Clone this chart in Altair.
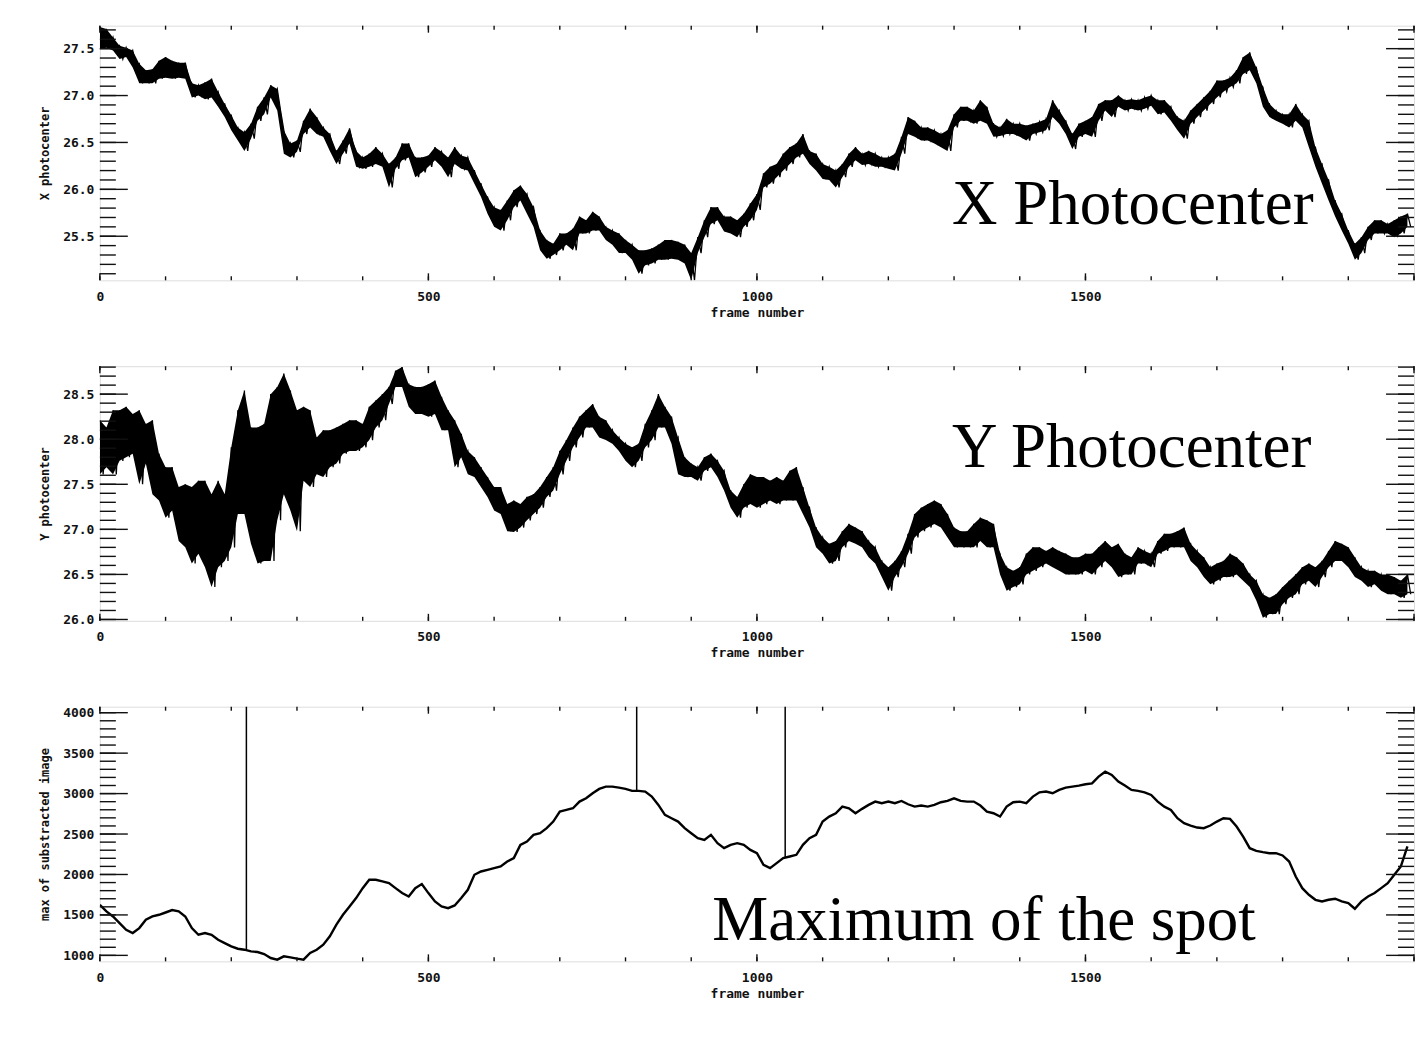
import altair as alt
import pandas as pd

# ---------------- data (frames 0..1990, step 10) ----------------
FRAMES = list(range(0, 2000, 10))

X_HI = [27.73, 27.71, 27.62, 27.53, 27.51, 27.48, 27.34, 27.27, 27.28, 27.37,
        27.41, 27.37, 27.35, 27.35, 27.13, 27.11, 27.14, 27.18, 27.04, 26.91,
        26.79, 26.66, 26.61, 26.70, 26.88, 26.98, 27.11, 27.07, 26.63, 26.49,
        26.52, 26.73, 26.86, 26.77, 26.66, 26.59, 26.41, 26.52, 26.65, 26.41,
        26.34, 26.38, 26.45, 26.38, 26.27, 26.34, 26.49, 26.49, 26.34, 26.34,
        26.36, 26.45, 26.40, 26.34, 26.45, 26.36, 26.34, 26.20, 26.06, 25.92,
        25.81, 25.78, 25.88, 25.99, 26.04, 25.95, 25.81, 25.56, 25.46, 25.42,
        25.53, 25.53, 25.58, 25.71, 25.67, 25.76, 25.71, 25.60, 25.56, 25.53,
        25.46, 25.41, 25.35, 25.35, 25.37, 25.41, 25.46, 25.46, 25.44, 25.41,
        25.32, 25.49, 25.67, 25.81, 25.81, 25.71, 25.71, 25.67, 25.74, 25.85,
        25.95, 26.17, 26.24, 26.27, 26.38, 26.45, 26.49, 26.59, 26.41, 26.38,
        26.27, 26.24, 26.20, 26.27, 26.38, 26.45, 26.38, 26.41, 26.38, 26.34,
        26.34, 26.38, 26.56, 26.77, 26.73, 26.66, 26.66, 26.63, 26.59, 26.63,
        26.80, 26.88, 26.88, 26.84, 26.95, 26.88, 26.70, 26.66, 26.75, 26.70,
        26.70, 26.68, 26.70, 26.72, 26.75, 26.95, 26.84, 26.73, 26.59, 26.70,
        26.73, 26.77, 26.91, 26.95, 26.95, 27.00, 26.95, 26.96, 26.95, 26.98,
        27.00, 26.95, 26.95, 26.88, 26.77, 26.73, 26.84, 26.91, 26.98, 27.05,
        27.16, 27.16, 27.19, 27.27, 27.41, 27.46, 27.30, 27.09, 26.91, 26.84,
        26.80, 26.80, 26.91, 26.80, 26.73, 26.45, 26.27, 26.10, 25.88, 25.74,
        25.56, 25.42, 25.49, 25.60, 25.67, 25.67, 25.63, 25.67, 25.71, 25.74]

X_LO = [27.50, 27.51, 27.48, 27.39, 27.41, 27.30, 27.13, 27.13, 27.13, 27.18,
        27.19, 27.18, 27.19, 27.18, 26.98, 27.00, 26.96, 26.98, 26.88, 26.77,
        26.63, 26.52, 26.41, 26.54, 26.73, 26.80, 26.98, 26.84, 26.38, 26.34,
        26.40, 26.59, 26.66, 26.59, 26.56, 26.41, 26.27, 26.38, 26.49, 26.24,
        26.22, 26.24, 26.27, 26.24, 26.02, 26.22, 26.31, 26.34, 26.13, 26.18,
        26.24, 26.31, 26.24, 26.13, 26.27, 26.22, 26.20, 26.06, 25.92, 25.74,
        25.60, 25.56, 25.67, 25.81, 25.88, 25.74, 25.60, 25.35, 25.26, 25.30,
        25.35, 25.41, 25.35, 25.53, 25.53, 25.56, 25.56, 25.46, 25.41, 25.32,
        25.32, 25.25, 25.10, 25.19, 25.21, 25.25, 25.25, 25.26, 25.25, 25.21,
        25.03, 25.32, 25.49, 25.63, 25.67, 25.55, 25.53, 25.49, 25.60, 25.67,
        25.78, 26.02, 26.06, 26.13, 26.20, 26.27, 26.34, 26.38, 26.27, 26.20,
        26.11, 26.10, 26.02, 26.13, 26.24, 26.31, 26.26, 26.27, 26.24, 26.24,
        26.22, 26.20, 26.38, 26.59, 26.56, 26.52, 26.52, 26.49, 26.45, 26.41,
        26.66, 26.73, 26.73, 26.70, 26.73, 26.70, 26.56, 26.57, 26.59, 26.59,
        26.56, 26.52, 26.59, 26.61, 26.63, 26.77, 26.70, 26.59, 26.43, 26.56,
        26.59, 26.56, 26.73, 26.84, 26.77, 26.88, 26.84, 26.86, 26.84, 26.86,
        26.89, 26.80, 26.82, 26.73, 26.63, 26.54, 26.70, 26.77, 26.84, 26.91,
        26.98, 27.04, 27.09, 27.13, 27.23, 27.27, 27.13, 26.88, 26.77, 26.73,
        26.70, 26.66, 26.73, 26.66, 26.45, 26.24, 26.06, 25.88, 25.71, 25.56,
        25.42, 25.25, 25.32, 25.46, 25.53, 25.53, 25.53, 25.49, 25.53, 25.60]

Y_HI = [28.21, 28.13, 28.32, 28.32, 28.36, 28.28, 28.32, 28.17, 28.21, 27.84,
        27.69, 27.69, 27.47, 27.50, 27.47, 27.54, 27.54, 27.39, 27.54, 27.39,
        27.91, 28.32, 28.54, 28.13, 28.13, 28.17, 28.50, 28.58, 28.73, 28.54,
        28.32, 28.36, 28.32, 28.02, 28.10, 28.10, 28.13, 28.17, 28.21, 28.21,
        28.17, 28.36, 28.43, 28.50, 28.58, 28.76, 28.80, 28.61, 28.58, 28.58,
        28.61, 28.65, 28.47, 28.32, 28.21, 28.06, 27.87, 27.80, 27.69, 27.58,
        27.47, 27.47, 27.28, 27.32, 27.28, 27.36, 27.39, 27.47, 27.58, 27.69,
        27.87, 27.99, 28.13, 28.25, 28.32, 28.39, 28.25, 28.21, 28.10, 28.02,
        27.95, 27.91, 27.95, 28.17, 28.32, 28.50, 28.36, 28.25, 28.02, 27.80,
        27.73, 27.69, 27.80, 27.84, 27.76, 27.65, 27.43, 27.36, 27.50, 27.61,
        27.58, 27.58, 27.54, 27.58, 27.54, 27.65, 27.69, 27.47, 27.24, 27.02,
        26.91, 26.84, 26.87, 26.98, 27.06, 27.02, 26.98, 26.87, 26.80, 26.65,
        26.58, 26.65, 26.76, 26.95, 27.17, 27.24, 27.28, 27.32, 27.28, 27.17,
        27.02, 26.98, 26.98, 27.06, 27.13, 27.10, 27.06, 26.73, 26.58, 26.54,
        26.58, 26.73, 26.80, 26.80, 26.76, 26.80, 26.76, 26.73, 26.69, 26.69,
        26.73, 26.73, 26.80, 26.87, 26.80, 26.84, 26.73, 26.69, 26.80, 26.76,
        26.73, 26.87, 26.95, 26.95, 26.98, 27.02, 26.84, 26.76, 26.69, 26.58,
        26.62, 26.65, 26.73, 26.69, 26.62, 26.50, 26.43, 26.28, 26.24, 26.28,
        26.36, 26.43, 26.50, 26.58, 26.62, 26.58, 26.65, 26.76, 26.87, 26.84,
        26.80, 26.69, 26.58, 26.54, 26.54, 26.50, 26.50, 26.47, 26.43, 26.50]

Y_LO = [27.61, 27.69, 27.61, 27.76, 27.80, 27.84, 27.50, 27.73, 27.39, 27.32,
        27.13, 27.21, 26.87, 26.80, 26.62, 26.73, 26.58, 26.36, 26.58, 26.65,
        26.80, 27.17, 27.17, 26.84, 26.62, 26.65, 26.65, 27.10, 27.39, 27.21,
        26.98, 27.54, 27.47, 27.61, 27.58, 27.69, 27.73, 27.84, 27.87, 27.87,
        27.91, 27.99, 28.13, 28.21, 28.39, 28.58, 28.58, 28.36, 28.28, 28.28,
        28.25, 28.28, 28.10, 28.10, 27.69, 27.80, 27.61, 27.58, 27.47, 27.36,
        27.21, 27.17, 26.98, 26.97, 27.02, 27.10, 27.17, 27.24, 27.36, 27.43,
        27.61, 27.76, 27.91, 28.02, 28.13, 28.13, 28.02, 27.99, 27.95, 27.87,
        27.76, 27.69, 27.76, 27.91, 27.99, 28.13, 28.13, 27.95, 27.61, 27.58,
        27.58, 27.54, 27.65, 27.69, 27.58, 27.43, 27.24, 27.13, 27.24, 27.28,
        27.24, 27.28, 27.32, 27.28, 27.32, 27.32, 27.32, 27.17, 27.02, 26.80,
        26.73, 26.62, 26.65, 26.80, 26.87, 26.84, 26.80, 26.69, 26.62, 26.47,
        26.32, 26.47, 26.58, 26.73, 26.91, 26.98, 27.02, 27.06, 27.02, 26.91,
        26.80, 26.80, 26.80, 26.80, 26.87, 26.80, 26.80, 26.50, 26.32, 26.36,
        26.39, 26.50, 26.54, 26.58, 26.62, 26.58, 26.54, 26.50, 26.50, 26.50,
        26.54, 26.50, 26.58, 26.65, 26.58, 26.47, 26.50, 26.50, 26.62, 26.62,
        26.58, 26.73, 26.76, 26.80, 26.80, 26.80, 26.65, 26.58, 26.47, 26.39,
        26.43, 26.47, 26.47, 26.50, 26.43, 26.36, 26.21, 26.02, 26.06, 26.06,
        26.17, 26.24, 26.28, 26.39, 26.43, 26.36, 26.47, 26.58, 26.65, 26.65,
        26.58, 26.47, 26.43, 26.36, 26.39, 26.32, 26.28, 26.28, 26.24, 26.28]

M_VAL = [1625, 1543, 1481, 1399, 1317, 1276, 1337, 1440, 1481, 1502,
         1530, 1560, 1545, 1481, 1337, 1255, 1276, 1255, 1193, 1152,
         1111, 1082, 1070, 1049, 1041, 1016, 967, 947, 988, 975,
         959, 947, 1029, 1070, 1132, 1235, 1379, 1502, 1605, 1708,
         1831, 1934, 1934, 1914, 1893, 1831, 1770, 1728, 1831, 1881,
         1770, 1667, 1605, 1584, 1617, 1708, 1811, 1996, 2037, 2058,
         2078, 2099, 2160, 2202, 2366, 2407, 2490, 2510, 2572, 2654,
         2778, 2798, 2819, 2901, 2942, 3004, 3058, 3086, 3086, 3074,
         3058, 3033, 3033, 3025, 2963, 2860, 2737, 2695, 2654, 2572,
         2510, 2448, 2428, 2490, 2387, 2325, 2366, 2387, 2366, 2304,
         2263, 2119, 2078, 2140, 2202, 2222, 2243, 2366, 2448, 2490,
         2654, 2716, 2757, 2839, 2819, 2757, 2811, 2860, 2901, 2881,
         2901, 2881, 2909, 2868, 2839, 2852, 2839, 2860, 2893, 2909,
         2942, 2909, 2901, 2901, 2852, 2778, 2757, 2716, 2839, 2893,
         2901, 2881, 2963, 3016, 3025, 3004, 3045, 3074, 3086, 3099,
         3115, 3127, 3210, 3271, 3230, 3148, 3099, 3045, 3033, 3016,
         2983, 2901, 2839, 2798, 2695, 2634, 2605, 2580, 2572, 2605,
         2654, 2695, 2687, 2593, 2469, 2325, 2292, 2276, 2263, 2263,
         2235, 2160, 1975, 1831, 1749, 1687, 1667, 1687, 1700, 1667,
         1646, 1576, 1667, 1728, 1770, 1831, 1893, 1996, 2099, 2346]

# isolated outlier frames (vertical spikes going off the top of the panel)
SPIKE_FRAMES = [223, 817, 1043]
SPIKE_BASE = [1065, 3035, 2205]
SPIKE_TOP = 4300

# axis ticks / labels
X_LABELS = [0, 500, 1000, 1500]
X_MAJOR = [0, 500, 1000, 1500, 2000]
X_MINOR = list(range(0, 2001, 100))
P1_MAJOR = [25.5, 26.0, 26.5, 27.0, 27.5]
P1_MINOR = [round(25.1 + 0.1 * i, 1) for i in range(27)]
P2_MAJOR = [26.0, 26.5, 27.0, 27.5, 28.0, 28.5]
P2_MINOR = [round(26.0 + 0.1 * i, 1) for i in range(29)]
P3_MAJOR = [1000, 1500, 2000, 2500, 3000, 3500, 4000]
P3_MINOR = list(range(1000, 4001, 100))

P1_DOMAIN = [25.03, 27.745]
P2_DOMAIN = [25.985, 28.81]
P3_DOMAIN = [926, 4074]
X_DOMAIN = [0, 2000]

ANNOT = [
    {"frame": 1297, "v": 25.63, "t": "X Photocenter"},
    {"frame": 1297, "v": 27.69, "t": "Y Photocenter"},
    {"frame": 932, "v": 1193, "t": "Maximum of the spot"},
]

# ---------------- build tables ----------------
def zigzag(hi, lo):
    rows = []
    for f, h, l in zip(FRAMES, hi, lo):
        rows.append({"frame": f, "v": h})
        rows.append({"frame": f + 5, "v": l})
    return pd.DataFrame(rows)

df_x = zigzag(X_HI, X_LO)
df_y = zigzag(Y_HI, Y_LO)
band_x = pd.DataFrame({"frame": FRAMES, "hi": X_HI, "lo": X_LO})
band_y = pd.DataFrame({"frame": FRAMES, "hi": Y_HI, "lo": Y_LO})
df_m = pd.DataFrame({"frame": FRAMES, "v": M_VAL})
df_spk = pd.DataFrame({"frame": SPIKE_FRAMES, "v": SPIKE_BASE, "top": [SPIKE_TOP] * len(SPIKE_FRAMES)})

W, H = 1316, 255
LABEL_FONT = "DejaVu Sans Mono"
INK = "#111111"


def panel(df, band, spikes, ydom, ymaj, ymin, yfmt, ytitle, annot, stroke_w):
    xs = alt.Scale(domain=X_DOMAIN, nice=False, zero=False)
    ys = alt.Scale(domain=ydom, nice=False, zero=False)
    xaxis = alt.Axis(values=X_LABELS, format="d", title="frame number",
                     ticks=False, domain=False, grid=False,
                     labelFont=LABEL_FONT, labelFontSize=13, labelFontWeight="bold",
                     labelColor=INK, labelPadding=10, labelFlush=False, labelOverlap=False,
                     titleFont=LABEL_FONT, titleFontSize=13, titleFontWeight="bold",
                     titleColor=INK, titlePadding=3)
    yaxis = alt.Axis(values=ymaj, format=yfmt, title=ytitle,
                     ticks=False, domain=False, grid=False,
                     labelFont=LABEL_FONT, labelFontSize=13, labelFontWeight="bold",
                     labelColor=INK, labelPadding=6, labelFlush=False, labelOverlap=False,
                     titleFont=LABEL_FONT, titleFontSize=12, titleFontWeight="bold",
                     titleColor=INK, titleX=-48)
    X = lambda f: alt.X(f, scale=xs, axis=xaxis, title="frame number")
    Y = lambda f: alt.Y(f, scale=ys, axis=yaxis, title=ytitle)

    layers = []
    if band is not None:
        layers.append(alt.Chart(band).mark_area(color="black", clip=True, interpolate="linear").encode(
            x=X("frame:Q"), y=Y("hi:Q"), y2="lo:Q"))
    layers.append(alt.Chart(df).mark_line(color="black", strokeWidth=stroke_w, clip=True).encode(
        x=X("frame:Q"), y=Y("v:Q")))
    if spikes is not None:
        layers.append(alt.Chart(spikes).mark_rule(color="black", strokeWidth=1.5, clip=True).encode(
            x=X("frame:Q"), y=Y("v:Q"), y2="top:Q"))

    def yrule(vals, x0, x1):
        return alt.Chart(pd.DataFrame({"v": vals})).mark_rule(color=INK, strokeWidth=1.4).encode(
            y=Y("v:Q"), x=alt.value(x0), x2=alt.value(x1))

    def xrule(vals, y0, y1):
        return alt.Chart(pd.DataFrame({"frame": vals})).mark_rule(color=INK, strokeWidth=1.4).encode(
            x=X("frame:Q"), y=alt.value(y0), y2=alt.value(y1))

    layers += [
        yrule(ymaj, 0, 28), yrule(ymin, 0, 16),
        yrule(ymaj, W - 28, W), yrule(ymin, W - 16, W),
        xrule(X_MAJOR, H, H - 7), xrule(X_MINOR, H, H - 4),
        xrule(X_MAJOR, 0, 7), xrule(X_MINOR, 0, 4),
    ]
    layers.append(alt.Chart(pd.DataFrame([annot])).mark_text(
        font="Liberation Serif", fontSize=63, align="left", baseline="alphabetic", color="black"
    ).encode(x=X("frame:Q"), y=Y("v:Q"), text="t:N"))
    return alt.layer(*layers).properties(width=W, height=H)


p1 = panel(df_x, band_x, None, P1_DOMAIN, P1_MAJOR, P1_MINOR, ".1f", "X photocenter", ANNOT[0], 1.3)
p2 = panel(df_y, band_y, None, P2_DOMAIN, P2_MAJOR, P2_MINOR, ".1f", "Y photocenter", ANNOT[1], 1.3)
p3 = panel(df_m, None, df_spk, P3_DOMAIN, P3_MAJOR, P3_MINOR, "d", "max of substracted image", ANNOT[2], 2.4)

chart = alt.vconcat(p1, p2, p3, spacing=86, bounds="flush").properties(
    padding={"left": 38, "top": 23, "right": 0, "bottom": 5}
).configure_view(
    stroke=INK, strokeWidth=1.5
).configure(background="white")

chart.save("out.html", embed_options={"renderer": "svg", "actions": False})
